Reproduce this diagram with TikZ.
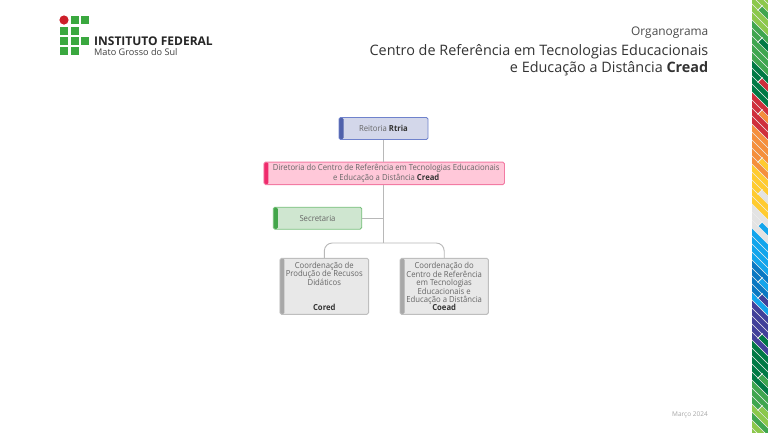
\documentclass[tikz,border=0pt]{standalone}
\usepackage{fontspec}
\setmainfont{Open Sans}
\newfontfamily\boxfont[FakeStretch=0.93]{Open Sans}
\definecolor{sLight}{HTML}{8CC84B}
\definecolor{sMid}{HTML}{3FA64F}
\definecolor{sDark}{HTML}{007A45}
\definecolor{sRed}{HTML}{CF2F3C}
\definecolor{sOrange}{HTML}{F58F3C}
\definecolor{sYellow}{HTML}{FFCB2F}
\definecolor{sGrey}{HTML}{E3E3E3}
\definecolor{sBlue}{HTML}{12A5EC}
\definecolor{sDeep}{HTML}{0A78C2}
\definecolor{sPurple}{HTML}{41409A}
\definecolor{sGap}{HTML}{EDEDED}
\definecolor{logoGreen}{HTML}{3AA83F}
\definecolor{logoRed}{HTML}{CC1F2A}
\definecolor{lineGrey}{HTML}{B8B8B8}
\definecolor{boxText}{HTML}{666666}
\definecolor{rFill}{HTML}{D3D7EA}
\definecolor{rEdge}{HTML}{6F82CC}
\definecolor{rTab}{HTML}{4F61AB}
\definecolor{dFill}{HTML}{FFC8D9}
\definecolor{dEdge}{HTML}{F27BA3}
\definecolor{dTab}{HTML}{EF2B6C}
\definecolor{gFill}{HTML}{CFE6D0}
\definecolor{gEdge}{HTML}{78C07C}
\definecolor{gTab}{HTML}{43A64A}
\definecolor{cFill}{HTML}{E8E8E8}
\definecolor{cEdge}{HTML}{BEBEBE}
\definecolor{cTab}{HTML}{A8A8A8}
\tikzset{
 orgbox/.style n args={3}{draw=#2,fill=#1,line width=.9pt,rounded corners=1.6pt,inner sep=0pt,
   align=center,text=boxText,font=\boxfont\fontsize{8.3}{8.3}\selectfont,
   path picture={\fill[#3] (path picture bounding box.south west) rectangle ([xshift=4.5pt]path picture bounding box.north west);}},
 conn/.style={draw=lineGrey,line width=.9pt},
 logosq/.style={fill=logoGreen},
 stripbar/.style={line width=4.7pt},
 stripgap/.style={draw=sGap,line width=.9pt},
}
\newcommand{\bk}[1]{\textbf{\textcolor{black!80}{#1}}}
\begin{document}
\begin{tikzpicture}[x=1pt,y=-1pt]
\useasboundingbox (0,0) rectangle (768,432);
\fill[white] (0,0) rectangle (768,432);
% side strip
\begin{scope}
\clip (752,0) rectangle (768,432);
\fill[sGap] (752,0) rectangle (768,432);
\foreach \kk/\cc in {-3/sLight,-2/sLight,-1/sLight,0/sLight,1/sLight,2/sLight,3/sMid,4/sMid,5/sMid,6/sMid,7/sMid,8/sDark,9/sDark,10/sDark,11/sDark,12/sRed,13/sRed,14/sRed,15/sRed,16/sOrange,17/sOrange,18/sOrange,19/sOrange,20/sOrange,21/sYellow,22/sYellow,23/sYellow,24/sYellow,25/sYellow,26/sGrey,27/sGrey,28/sGrey,29/sBlue,30/sBlue,31/sBlue,32/sBlue,33/sDeep,34/sDeep,35/sDeep,36/sDeep,37/sBlue,38/sPurple,39/sPurple,40/sPurple,41/sPurple,42/sPurple,43/sDark,44/sDark,45/sDark,46/sDark,47/sDark,48/sMid,49/sMid,50/sMid,51/sLight,52/sMid,53/sLight,54/sLight}
  {\draw[stripbar,\cc] (750,8*\kk-2) -- (770,8*\kk+18);}
\foreach \xa/\kk/\cc in {760/0/sMid,760/4/sDark,760/9/sRed,760/13/sOrange,760/19/sYellow,760/23/sGrey,760/27/sBlue,760/34/sBlue,760/36/sPurple,760/41/sDark,760/46/sMid,760/50/sLight}
  {\draw[stripbar,\cc] (\xa,8*\kk-2+\xa-750) -- ++(14,14);
   \draw[stripgap] (\xa,8*\kk-2+\xa-750) ++(-2.5,2.5) -- ++(5,-5);}
\end{scope}
% logo
\fill[logoRed] (64,20) circle (4.6);
\foreach \xa/\ya in {70.7/16,80.7/16,60/26.5,70.7/26.5,60/37,70.7/37,80.7/37,60/47,70.7/47}
  {\fill[logosq] (\xa,\ya) rectangle (\xa+8.3,\ya+8.2);}
\node[anchor=base west,inner sep=0pt,font=\fontsize{12}{12}\selectfont\bfseries,text=black!85] (ifname) at (94,45.5) {INSTITUTO FEDERAL};
\node[anchor=base west,inner sep=0pt,font=\fontsize{9.15}{10}\selectfont,text=black!75] (ifcampus) at (94,55.5) {Mato Grosso do Sul};
% header
\node[anchor=base east,inner sep=0pt,font=\fontsize{11.9}{12}\selectfont,text=black!70] (org) at (708.5,35) {Organograma};
\node[anchor=base east,inner sep=0pt,font=\fontsize{14.4}{15}\selectfont,text=black!80] (t1) at (708.5,55.5) {Centro de Referência em Tecnologias Educacionais};
\node[anchor=base east,inner sep=0pt,font=\fontsize{14.4}{15}\selectfont,text=black!80] (t2) at (708.5,72) {e Educação a Distância \textbf{Cread}};
\node[anchor=base east,inner sep=0pt,font=\fontsize{6.5}{7}\selectfont,text=black!35] (date) at (708,416) {Março 2024};
% boxes
\node[orgbox={rFill}{rEdge}{rTab},minimum width=89pt,minimum height=22pt] (rtria) at (383.5,128.5) {Reitoria \bk{Rtria}};
\node[orgbox={dFill}{dEdge}{dTab},minimum width=240.5pt,minimum height=22.5pt] (dir) at (384.2,173.3) {\hspace*{4pt}Diretoria do Centro de Referência em Tecnologias Educacionais\\\hspace*{4pt}e Educação a Distância \bk{Cread}};
\node[orgbox={gFill}{gEdge}{gTab},minimum width=88.5pt,minimum height=22pt] (sec) at (317.5,218.2) {Secretaria};
\node[orgbox={cFill}{cEdge}{cTab},minimum width=88.7pt,minimum height=56pt] (cored) at (324.3,286.3) {Coordenação de\\Produção de Recusos\\Didáticos\\[16.6pt]\bk{Cored}};
\node[orgbox={cFill}{cEdge}{cTab},minimum width=88.4pt,minimum height=56pt] (coead) at (444.2,286.3) {Coordenação do\\Centro de Referência\\em Tecnologias\\Educacionais e\\Educação a Distância\\\bk{Coead}};
% connectors
\coordinate (trunk) at (383.5,218.2);
\coordinate (bus) at (383.5,243);
\draw[conn] (rtria.south) -- (rtria.south |- dir.north);
\draw[conn] (rtria.south |- dir.south) -- (bus);
\draw[conn] (sec.east) -- (trunk);
\draw[conn,rounded corners=8pt] (cored.north) |- (bus) -| (coead.north);
\end{tikzpicture}
\end{document}
